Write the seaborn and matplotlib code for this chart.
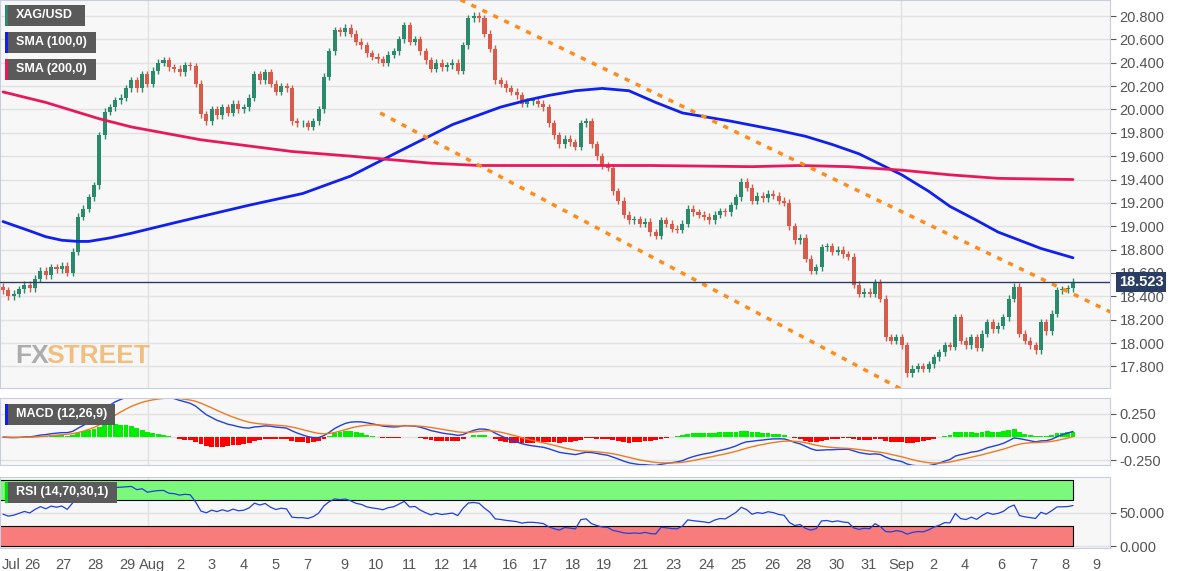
import numpy as np
import pandas as pd
import matplotlib
matplotlib.use("Agg")
import matplotlib.pyplot as plt
import seaborn as sns

# 4h closes, XAG/USD, Jul 25 - Sep 8
closes = [18.45, 18.40, 18.42, 18.46, 18.50, 18.47, 18.55, 18.62, 18.58, 18.65,
          18.63, 18.66, 18.60, 18.78, 19.08, 19.15, 19.25, 19.35, 19.78, 19.98,
          20.02, 20.08, 20.10, 20.18, 20.25, 20.18, 20.30, 20.22, 20.33, 20.40,
          20.42, 20.36, 20.35, 20.32, 20.38, 20.37, 20.22, 19.96, 19.90, 20.00,
          19.95, 20.02, 19.97, 20.05, 20.00, 20.02, 20.10, 20.30, 20.25, 20.32,
          20.22, 20.15, 20.20, 20.18, 19.90, 19.88, 19.88, 19.85, 19.90, 20.00,
          20.28, 20.50, 20.68, 20.66, 20.70, 20.65, 20.58, 20.55, 20.48, 20.45,
          20.43, 20.40, 20.47, 20.50, 20.60, 20.72, 20.58, 20.60, 20.50, 20.42,
          20.35, 20.40, 20.36, 20.38, 20.40, 20.33, 20.55, 20.78, 20.80, 20.78,
          20.65, 20.52, 20.25, 20.22, 20.18, 20.15, 20.12, 20.05, 20.07, 20.07,
          20.05, 20.02, 19.88, 19.78, 19.70, 19.75, 19.72, 19.68, 19.88, 19.90,
          19.70, 19.60, 19.52, 19.50, 19.30, 19.22, 19.10, 19.05, 19.06, 19.02,
          19.04, 18.95, 18.92, 19.05, 19.02, 18.98, 18.97, 19.02, 19.15, 19.12,
          19.10, 19.08, 19.05, 19.10, 19.13, 19.12, 19.18, 19.25, 19.38, 19.33,
          19.22, 19.26, 19.24, 19.28, 19.26, 19.22, 19.20, 19.00, 18.88, 18.90,
          18.72, 18.62, 18.65, 18.82, 18.83, 18.78, 18.80, 18.76, 18.74, 18.50,
          18.42, 18.44, 18.42, 18.52, 18.38, 18.05, 18.02, 18.05, 17.98, 17.74,
          17.78, 17.80, 17.78, 17.82, 17.88, 17.92, 17.98, 17.97, 18.22, 18.02,
          17.98, 18.05, 17.96, 18.08, 18.18, 18.12, 18.15, 18.22, 18.38, 18.48,
          18.08, 18.02, 17.98, 17.94, 18.18, 18.10, 18.25, 18.45, 18.46, 18.47,
          18.523]
first_open = 18.48

# moving averages, sampled at candle index
sma_idx = [0, 5, 8, 11, 14, 16, 20, 24, 33, 46, 56, 65, 74, 84, 93, 98, 102, 107, 112, 117, 122,
           127, 136, 145, 150, 155, 160, 164, 168, 173, 177, 182, 186, 190, 194, 197, 200]
sma100 = [19.04, 18.96, 18.91, 18.88, 18.87, 18.87, 18.90, 18.94, 19.04, 19.18, 19.28, 19.43,
          19.64, 19.87, 20.02, 20.08, 20.12, 20.16, 20.18, 20.16, 20.06, 19.97, 19.90, 19.82,
          19.77, 19.70, 19.62, 19.53, 19.44, 19.30, 19.17, 19.05, 18.95, 18.88, 18.81, 18.77, 18.73]
sma200_idx = [0, 8, 13, 18, 24, 37, 54, 65, 80, 89, 102, 121, 140, 149, 158, 168, 177, 186, 200]
sma200 = [20.15, 20.06, 19.99, 19.92, 19.85, 19.74, 19.64, 19.60, 19.54, 19.52, 19.52, 19.52,
          19.51, 19.52, 19.51, 19.48, 19.44, 19.41, 19.40]

# channel lines (index, price)
upper_ch = ([85.5, 220.0], [20.94, 17.98])
lower_ch = ([70.5, 167.7], [19.97, 17.61])

tick_px = [11, 32, 63, 95, 127, 152, 180, 212, 244, 276, 307, 344, 376, 409, 442, 470, 510, 540, 573,
           604, 640, 673, 706, 738, 772, 803, 837, 869, 901, 933, 965, 1001, 1033, 1065, 1096]
tick_lab = ["Jul", "26", "27", "28", "29", "Aug", "2", "3", "4", "5", "7", "9", "10", "11", "12", "14",
            "16", "17", "18", "19", "21", "23", "24", "25", "26", "28", "30", "31", "Sep", "2", "4",
            "6", "7", "8", "9"]

n = len(closes)
c = np.array(closes)
o = np.concatenate([[first_open], c[:-1]])
idx = np.arange(n)
up = c >= o
UP, DN = "#2a8a6c", "#d95b4b"

# indicators from closes
s = pd.Series(c)
macd = s.ewm(span=12, adjust=False).mean() - s.ewm(span=26, adjust=False).mean()
signal = macd.ewm(span=9, adjust=False).mean()
hist = macd - signal
ag, al = 0.03, 0.03
rsi = []
prev = first_open
for v in c:
    ch = v - prev
    prev = v
    ag = (ag * 13 + max(ch, 0)) / 14
    al = (al * 13 + max(-ch, 0)) / 14
    rsi.append(100 * ag / (ag + al))
rsi = np.array(rsi)

sns.set_style("white")
plt.rcParams['font.family'] = ['Liberation Sans', 'DejaVu Sans']
fig = plt.figure(figsize=(11.82, 5.71), dpi=100)
fig.patch.set_facecolor("white")
W = 1110 / 1182
ax = fig.add_axes([0, 0.3205, W, 0.6795])
axm = fig.add_axes([0, 0.1856, W, 0.1173])
axr = fig.add_axes([0, 0.0403, W, 0.124])
px = lambda p: (p - 3) / 5.35
xlim = (px(0), px(1110))

for a in (ax, axm, axr):
    a.set_facecolor("#f7f7f7")
    a.set_xlim(*xlim)
    for sp in a.spines.values():
        sp.set_color("#c8cde0")
    a.yaxis.tick_right()
    a.tick_params(axis="y", labelsize=10.5, colors="#555555", length=4, pad=3)
    a.tick_params(axis="x", length=0)
    a.set_xticks([px(901), px(148)])
    a.set_xticklabels([])
    a.grid(True, color="#e2e2e2", lw=1)

# main price
ax.set_ylim(17.615, 20.937)
yt = np.round(np.arange(17.8, 20.81, 0.2), 1)
ax.set_yticks(yt)
ax.set_yticklabels([f"{v:.3f}" for v in yt])
hi = np.maximum(o, c) + 0.03
lo = np.minimum(o, c) - 0.03
ax.vlines(idx, lo, hi, colors=np.where(up, UP, DN), lw=1, zorder=2)
body = np.where(np.abs(c - o) < 0.008, 0.008, c - o)
ax.bar(idx, body, bottom=o, width=0.75, color=np.where(up, UP, DN), linewidth=0, zorder=3)
sns.lineplot(x=sma_idx, y=sma100, ax=ax, color="#1020ee", lw=2, zorder=4)
sns.lineplot(x=sma200_idx, y=sma200, ax=ax, color="#e8195a", lw=2, zorder=4)
for xs, ys in (upper_ch, lower_ch):
    ax.plot(xs, ys, color="#ff8c1a", lw=2.5, ls=(0, (1.5, 2)), zorder=4)
ax.axhline(closes[-1], color="#2c3d63", lw=1, zorder=5)
ax.text(1.008, (closes[-1] - 17.615) / (20.937 - 17.615), f"{closes[-1]:.3f}", transform=ax.transAxes,
        ha="left", va="center", color="white", fontsize=10.5, fontweight="bold",
        bbox=dict(boxstyle="square,pad=0.2", fc="#2c3d63", ec="none"), zorder=6, clip_on=False)
ax.text(15 / 1110, 0.065, "FX", transform=ax.transAxes, fontsize=19, fontweight="bold",
        color="#9a9a9a", alpha=0.8)
ax.text(46 / 1110, 0.065, "STREET", transform=ax.transAxes, fontsize=19, fontweight="bold",
        color="#f0b060", alpha=0.8)

def tag(a, y0, text, w, strip):
    h = 21 / a.bbox.height
    a.add_patch(plt.Rectangle((5 / 1110, y0 - h / 2), w / 1110, h, transform=a.transAxes,
                              fc="#5a5a5a", ec="none", zorder=7))
    a.add_patch(plt.Rectangle((5 / 1110, y0 - h / 2), 3 / 1110, h, transform=a.transAxes,
                              fc=strip, ec="none", zorder=8))
    a.text(16 / 1110, y0, text, transform=a.transAxes, fontsize=9, color="white",
           fontweight="bold", va="center", zorder=9)

tag(ax, 1 - 15.5 / 388, "XAG/USD", 80, "#2a8a6c")
tag(ax, 1 - 42.5 / 388, "SMA (100,0)", 91, "#1020ee")
tag(ax, 1 - 69.5 / 388, "SMA (200,0)", 91, "#e8195a")

# MACD
axm.set_ylim(-0.30, 0.42)
axm.set_yticks([-0.25, 0, 0.25])
axm.set_yticklabels(["-0.250", "0.000", "0.250"])
axm.bar(idx, hist, width=0.9, color=np.where(hist >= 0, "#00ee00", "#ff0000"), linewidth=0, zorder=2)
axm.plot(idx, macd, color="#2040e0", lw=1)
axm.plot(idx, signal, color="#f07a20", lw=1)
tag(axm, 1 - 16 / 67, "MACD (12,26,9)", 110, "#1020ee")

# RSI
axr.set_ylim(-3, 104)
axr.set_yticks([0, 50])
axr.set_yticklabels(["0.000", "50.000"])
axr.fill_between([idx[0] - 1, idx[-1]], 70, 100, color="#7cf87c", ec="black", lw=0.8, zorder=1)
axr.fill_between([idx[0] - 1, idx[-1]], 0, 30, color="#f87c7c", ec="black", lw=0.8, zorder=1)
axr.plot(idx, rsi, color="#2040e0", lw=0.9, zorder=3)
tag(axr, 1 - 15 / 71, "RSI (14,70,30,1)", 112, "#00dd00")
axr.set_xticks([px(p) for p in tick_px])
axr.set_xticklabels(tick_lab, fontsize=10.5, color="#555555")
axr.tick_params(axis="x", length=4, colors="#555555")
axr.grid(False, axis="x")
for p in (148, 901):
    axr.axvline(px(p), color="#e2e2e2", lw=1, zorder=0)

fig.savefig("out.png", dpi=100)
